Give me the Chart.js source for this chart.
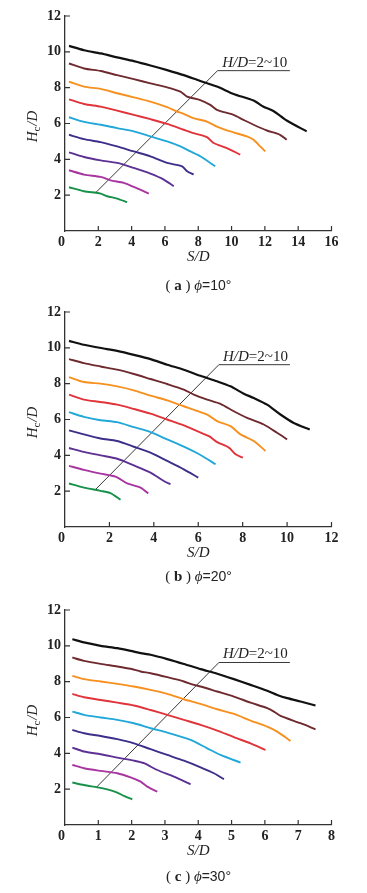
<!DOCTYPE html>
<html>
<head>
<meta charset="utf-8">
<script src="https://cdn.jsdelivr.net/npm/chart.js@4.4.0/dist/chart.umd.min.js"></script>
<style>
  body { margin: 0; background: #fff; }
  #wrap { position: relative; width: 367px; height: 893px; overflow: hidden; }
  canvas { position: absolute; left: 0; }
  .cap { position: absolute; left: 65px; width: 267px; text-align: center;
         font: 15px "Liberation Serif", "DejaVu Serif", serif; color: #222; line-height: 16px; }
  .cap b { font-weight: bold; }
  .cap .s { font-family: "Liberation Sans", Arial, sans-serif; font-size: 14px; }
</style>
</head>
<body>
<div id="wrap">
  <canvas id="chartA" width="367" height="296" style="top:-1px"></canvas>
  <canvas id="chartB" width="367" height="296" style="top:295px"></canvas>
  <canvas id="chartC" width="367" height="296" style="top:593px"></canvas>
  <div class="cap" style="top:277px">( <b>a</b> )&nbsp;<i>ϕ</i><span class="s">=10°</span></div>
  <div class="cap" style="top:568px">( <b>b</b> )&nbsp;<i>ϕ</i><span class="s">=20°</span></div>
  <div class="cap" style="top:868px">( <b>c</b> )&nbsp;<i>ϕ</i><span class="s">=30°</span></div>
</div>
<script>
// H/D levels, top curve first
const hdLevels = [10, 9, 8, 7, 6, 5, 4, 3, 2];
const lineColors = ["#111111", "#6e2a2e", "#f7901e", "#e0333a", "#21a8d8", "#3b2f8a", "#5c3193", "#a8359f", "#17914a"];

// (a) phi = 10°   [S/D, Hc/D]
const a10 = [[0.24,10.33],[1.14,10.09],[2.14,9.91],[3.13,9.69],[4.13,9.48],[5.13,9.24],[6.13,8.98],[7.13,8.70],[8.12,8.37],[9.12,8.06],[10.12,7.65],[11.32,7.28],[11.92,6.94],[12.51,6.70],[13.31,6.17],[14.51,5.56]];
const a9  = [[0.24,9.35],[1.14,9.07],[2.14,8.93],[3.13,8.70],[4.13,8.48],[5.13,8.24],[6.13,8.02],[6.93,7.78],[7.33,7.50],[8.12,7.31],[8.72,7.04],[9.12,6.76],[10.12,6.48],[10.72,6.20],[11.32,5.93],[12.12,5.61],[12.91,5.37],[13.31,5.09]];
const a8  = [[0.24,8.33],[1.14,8.06],[2.14,7.93],[3.13,7.69],[4.13,7.46],[5.13,7.22],[6.13,6.91],[6.73,6.67],[7.13,6.54],[7.72,6.30],[8.52,6.11],[9.12,5.83],[9.92,5.56],[10.92,5.28],[11.32,5.09],[11.72,4.72],[12.02,4.44]];
const a7  = [[0.24,7.35],[1.14,7.09],[2.14,6.94],[3.13,6.72],[4.13,6.48],[5.13,6.24],[6.13,5.98],[7.13,5.65],[7.72,5.46],[8.52,5.24],[8.92,4.91],[9.72,4.63],[10.52,4.26]];
const a6  = [[0.24,6.35],[1.14,6.09],[2.14,5.93],[3.13,5.74],[4.13,5.56],[5.13,5.28],[6.13,5.00],[6.93,4.72],[7.53,4.44],[8.12,4.17],[9.02,3.61]];
const a5  = [[0.24,5.37],[1.14,5.13],[2.14,4.96],[3.13,4.72],[4.13,4.44],[5.13,4.17],[6.13,3.80],[7.03,3.61],[7.33,3.33],[7.72,3.15]];
const a4  = [[0.24,4.39],[1.14,4.13],[2.14,3.94],[3.13,3.80],[4.13,3.52],[5.13,3.20],[5.93,2.87],[6.53,2.50]];
const a3  = [[0.24,3.39],[1.14,3.15],[2.14,3.02],[2.73,2.83],[3.53,2.69],[4.13,2.46],[5.03,2.09]];
const a2  = [[0.24,2.44],[1.14,2.22],[2.14,2.09],[2.53,1.94],[3.13,1.81],[3.73,1.61]];
const guideA = [[1.8,2.1],[9.16,8.95],[13.5,8.95]];

// (b) phi = 20°
const b10 = [[0.18,10.39],[0.85,10.17],[1.9,9.93],[2.35,9.83],[3.1,9.61],[3.85,9.37],[4.6,9.06],[5.35,8.78],[6.1,8.44],[6.85,8.13],[7.45,7.85],[8.05,7.44],[8.5,7.20],[9.1,6.83],[9.7,6.28],[10.3,5.81],[11.02,5.44]];
const b9  = [[0.18,9.37],[0.85,9.15],[1.6,8.96],[2.35,8.78],[3.1,8.54],[3.85,8.26],[4.6,7.98],[5.35,7.67],[5.8,7.39],[6.4,7.11],[7.0,6.87],[7.6,6.46],[8.2,6.09],[8.95,5.72],[9.55,5.26],[10.0,4.89]];
const b8  = [[0.18,8.37],[0.85,8.09],[1.6,8.0],[2.35,7.85],[3.1,7.63],[3.85,7.33],[4.6,7.07],[5.35,6.74],[6.1,6.41],[6.48,6.22],[6.85,5.91],[7.45,5.63],[7.9,5.17],[8.5,4.80],[9.03,4.24]];
const b7  = [[0.18,7.39],[0.85,7.11],[1.6,6.98],[2.35,6.83],[3.1,6.59],[3.85,6.33],[4.6,6.0],[5.35,5.67],[5.95,5.35],[6.48,5.07],[6.85,4.74],[7.38,4.43],[7.68,4.06],[8.01,3.87]];
const b6  = [[0.18,6.41],[0.85,6.15],[1.6,5.96],[2.35,5.85],[3.1,5.57],[3.85,5.30],[4.6,4.89],[5.35,4.48],[6.1,4.02],[6.78,3.50]];
const b5  = [[0.18,5.39],[0.85,5.17],[1.6,4.94],[2.35,4.80],[3.1,4.48],[3.85,4.15],[4.6,3.69],[5.35,3.22],[6.0,2.76]];
const b4  = [[0.18,4.41],[0.85,4.19],[1.6,4.0],[2.35,3.81],[3.1,3.44],[3.85,3.04],[4.45,2.57],[4.75,2.39]];
const b3  = [[0.18,3.41],[0.85,3.19],[1.6,2.98],[2.28,2.81],[2.8,2.43],[3.4,2.20],[3.75,1.87]];
const b2  = [[0.18,2.43],[0.85,2.20],[1.6,2.02],[2.05,1.89],[2.5,1.52]];
const guideB = [[1.38,2.1],[6.93,9.06],[10.13,9.06]];

// (c) phi = 30°
const c10 = [[0.22,10.37],[0.57,10.19],[1.07,10.0],[1.57,9.87],[1.97,9.72],[2.27,9.59],[2.57,9.50],[3.07,9.26],[3.57,8.99],[4.07,8.70],[4.57,8.44],[5.07,8.14],[5.57,7.82],[6.07,7.49],[6.37,7.26],[6.67,7.08],[7.07,6.89],[7.52,6.67]];
const c9  = [[0.22,9.35],[0.57,9.16],[1.07,8.99],[1.57,8.85],[1.97,8.72],[2.27,8.57],[2.57,8.47],[3.07,8.25],[3.57,8.01],[3.87,7.82],[4.07,7.73],[4.57,7.45],[5.07,7.17],[5.57,6.83],[6.07,6.52],[6.27,6.33],[6.47,6.09],[7.07,5.68],[7.52,5.34]];
const c8  = [[0.22,8.32],[0.57,8.14],[1.07,8.01],[1.57,7.88],[2.07,7.73],[2.57,7.54],[3.07,7.32],[3.57,7.02],[4.07,6.76],[4.57,6.46],[5.07,6.20],[5.57,5.83],[6.07,5.49],[6.37,5.21],[6.77,4.69]];
const c7  = [[0.22,7.32],[0.57,7.13],[1.07,6.98],[1.57,6.83],[2.07,6.67],[2.57,6.42],[3.07,6.15],[3.57,5.87],[4.07,5.59],[4.57,5.27],[5.07,4.90],[5.57,4.56],[6.02,4.19]];
const c6  = [[0.22,6.33],[0.57,6.15],[1.07,6.0],[1.57,5.87],[2.07,5.68],[2.57,5.40],[3.07,5.16],[3.77,4.75],[4.27,4.28],[4.67,3.91],[5.27,3.48]];
const c5  = [[0.22,5.31],[0.57,5.12],[1.07,4.97],[1.57,4.79],[2.07,4.56],[2.57,4.23],[3.07,3.91],[3.57,3.59],[4.07,3.22],[4.47,2.89],[4.77,2.55]];
const c4  = [[0.22,4.32],[0.57,4.10],[1.07,3.95],[1.57,3.76],[2.07,3.59],[2.37,3.45],[2.77,3.07],[3.27,2.70],[3.77,2.27]];
const c3  = [[0.22,3.35],[0.57,3.17],[1.07,3.02],[1.57,2.89],[1.97,2.66],[2.27,2.42],[2.47,2.14],[2.77,1.86]];
const c2  = [[0.22,2.37],[0.57,2.23],[0.97,2.10],[1.27,1.99],[1.57,1.81],[1.77,1.62],[2.02,1.43]];
const guideC = [[0.94,2.1],[4.62,9.07],[6.75,9.07]];

const guideLabel = ["H/D", "=2~10"];
const yTitle = ["H", "c", "/D"];
const xTitle = "S/D";

const serif = "'Liberation Serif', 'DejaVu Serif', serif";

// inward tick marks, rotated y title with subscript, guide label
const decor = {
  id: "decor",
  afterDraw(chart, args, opts) {
    const { ctx, chartArea: a, scales: { x, y } } = chart;
    ctx.save();
    ctx.strokeStyle = "#333";
    ctx.lineWidth = 1.2;
    ctx.beginPath();
    x.ticks.forEach(t => {
      if (t.value === 0) return;
      const px = x.getPixelForValue(t.value);
      ctx.moveTo(px, a.bottom);
      ctx.lineTo(px, a.bottom - 5);
    });
    y.ticks.forEach(t => {
      if (t.value === 0) return;
      const py = y.getPixelForValue(t.value);
      ctx.moveTo(a.left, py);
      ctx.lineTo(a.left + 5, py);
    });
    ctx.stroke();

    // y axis title  H_c/D
    ctx.fillStyle = "#222";
    ctx.textBaseline = "middle";
    ctx.textAlign = "left";
    const big = "italic 15px " + serif, small = "11px " + serif;
    ctx.font = big;
    const w0 = ctx.measureText(yTitle[0]).width;
    const w2 = ctx.measureText(yTitle[2]).width;
    ctx.font = small;
    const w1 = ctx.measureText(yTitle[1]).width + 1;
    ctx.translate(33, (a.top + a.bottom) / 2 + 3);
    ctx.rotate(-Math.PI / 2);
    let sx = -(w0 + w1 + w2) / 2;
    ctx.font = big;
    ctx.fillText(yTitle[0], sx, 0);
    ctx.font = small;
    ctx.fillText(yTitle[1], sx + w0, 4);
    ctx.font = big;
    ctx.fillText(yTitle[2], sx + w0 + w1, 0);
    ctx.setTransform(1, 0, 0, 1, 0, 0);

    // guide label above the horizontal leader
    const g = opts.guide;
    const gx1 = x.getPixelForValue(g[1][0]);
    const gx2 = x.getPixelForValue(g[2][0]);
    const gy = y.getPixelForValue(g[2][1]);
    ctx.font = big;
    const l0 = ctx.measureText(guideLabel[0]).width;
    ctx.font = "15px " + serif;
    const l1 = ctx.measureText(guideLabel[1]).width;
    const lx = (gx1 + gx2) / 2 - (l0 + l1) / 2 + 1;
    ctx.font = big;
    ctx.fillText(guideLabel[0], lx, gy - 8);
    ctx.font = "15px " + serif;
    ctx.fillText(guideLabel[1], lx + l0, gy - 8);
    ctx.restore();
  }
};

function makeChart(id, curves, guide, xMax, xStep) {
  const datasets = curves.map((pts, i) => ({
    label: "H/D=" + hdLevels[i],
    data: pts.map(p => ({ x: p[0], y: p[1] })),
    borderColor: lineColors[i],
    borderWidth: i === 0 ? 2.2 : 1.9,
    pointRadius: 0,
    tension: 0.25,
    fill: false
  }));
  datasets.push({
    label: "guide",
    data: guide.map(p => ({ x: p[0], y: p[1] })),
    borderColor: "#222",
    borderWidth: 0.9,
    pointRadius: 0,
    tension: 0,
    fill: false
  });

  new Chart(document.getElementById(id), {
    type: "line",
    data: { datasets },
    plugins: [decor],
    options: {
      responsive: false,
      animation: false,
      layout: { padding: { left: 0, top: 17, right: 35.5, bottom: 0 } },
      plugins: {
        legend: { display: false },
        tooltip: { enabled: false },
        decor: { guide }
      },
      scales: {
        x: {
          type: "linear",
          min: 0,
          max: xMax,
          afterFit: s => { s.height = 64; },
          grid: { display: true, drawOnChartArea: false, drawTicks: false },
          border: { display: true, color: "#333", width: 1.3 },
          ticks: {
            stepSize: xStep,
            padding: 3,
            color: "#222",
            font: { family: serif, size: 14, weight: "bold" },
            callback: v => (v === 0 ? "0\u2002" : v)
          },
          title: {
            display: true,
            text: xTitle,
            color: "#222",
            font: { family: serif, size: 15, style: "italic" },
            padding: { top: 0, bottom: 29 }
          }
        },
        y: {
          min: 0,
          max: 12,
          afterFit: s => { s.width = 65; },
          grid: { display: true, drawOnChartArea: false, drawTicks: false },
          border: { display: true, color: "#333", width: 1.3 },
          ticks: {
            stepSize: 2,
            padding: 4,
            color: "#222",
            font: { family: serif, size: 14, weight: "bold" },
            callback: v => (v === 0 ? "" : v)
          }
        }
      }
    }
  });
}

makeChart("chartA", [a10, a9, a8, a7, a6, a5, a4, a3, a2], guideA, 16, 2);
makeChart("chartB", [b10, b9, b8, b7, b6, b5, b4, b3, b2], guideB, 12, 2);
makeChart("chartC", [c10, c9, c8, c7, c6, c5, c4, c3, c2], guideC, 8, 1);
</script>
</body>
</html>
